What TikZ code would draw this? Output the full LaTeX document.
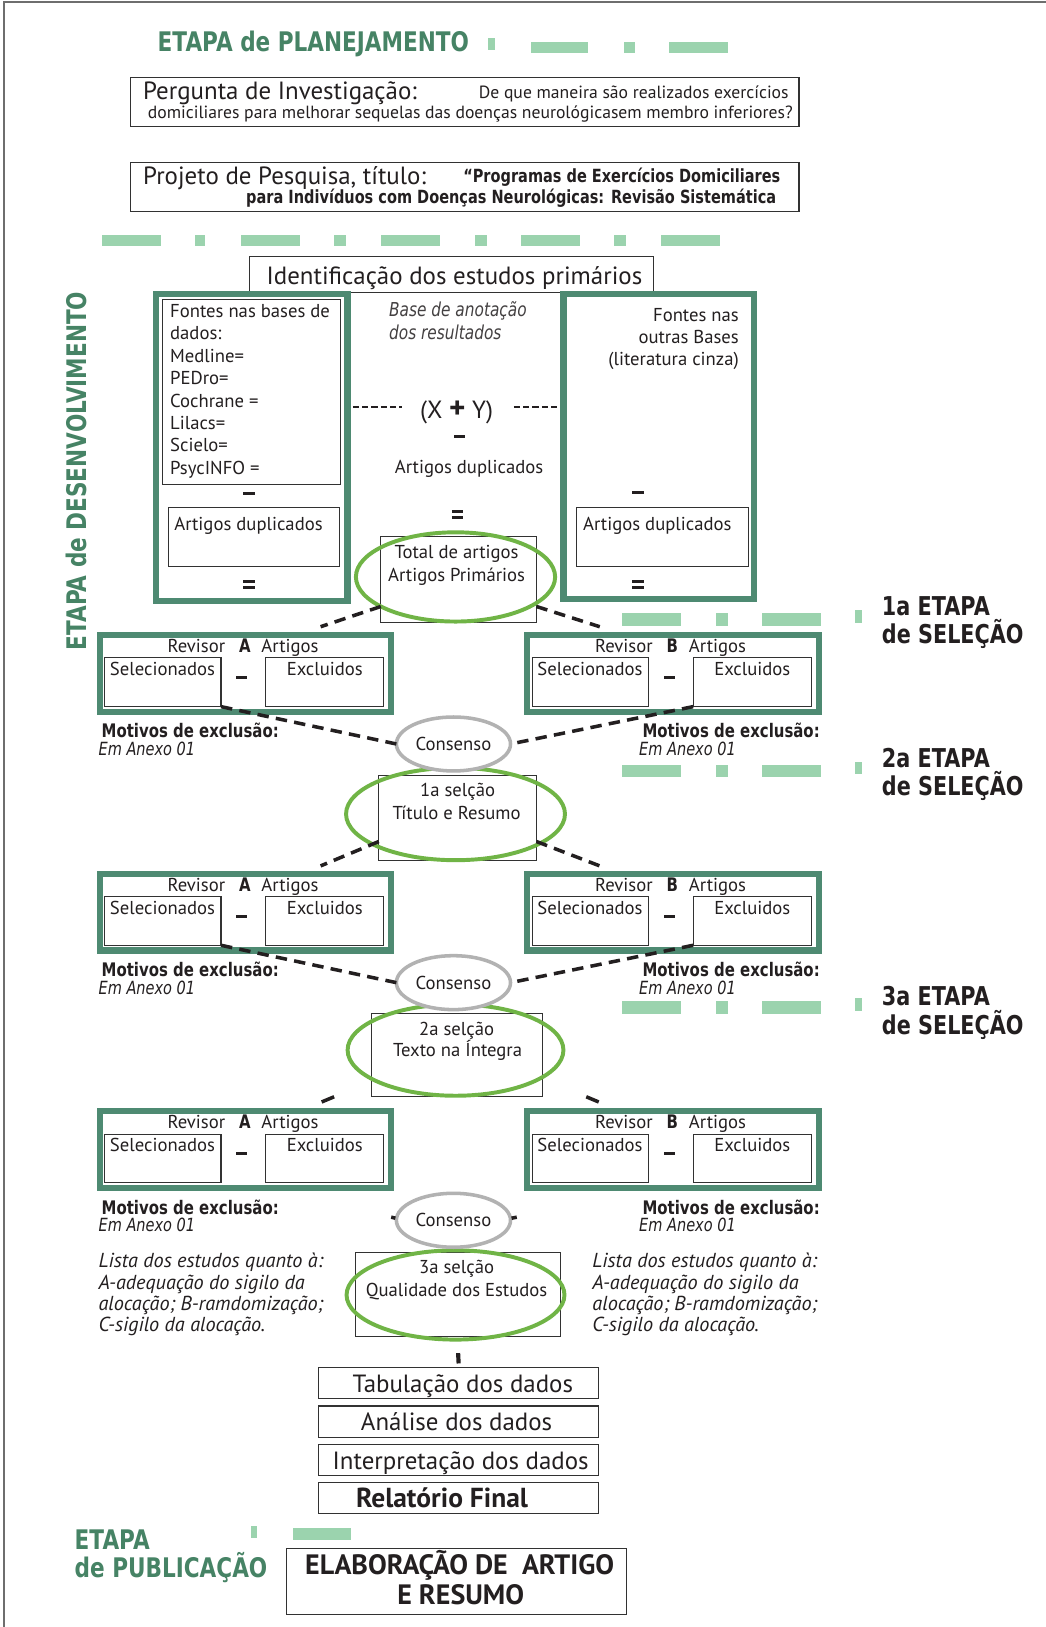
\documentclass[tikz,border=0pt]{standalone}
\usepackage{fontspec}
\usetikzlibrary{shapes.geometric,calc}
\setmainfont{PT Sans}
\newfontfamily\vsans[FakeStretch=0.8]{DejaVu Sans}
\newcommand\fsz[2]{\fontsize{#1}{#2}\selectfont}

\definecolor{inkc}{RGB}{35,31,32}
\definecolor{boxc}{RGB}{50,50,50}
\definecolor{frameGreen}{RGB}{78,138,114}
\definecolor{titleGreen}{RGB}{70,131,101}
\definecolor{lightGreen}{RGB}{155,211,174}
\definecolor{ringGreen}{RGB}{112,180,70}
\definecolor{consGray}{RGB}{178,178,178}
\definecolor{edgeGray}{RGB}{110,110,110}

% two short bars used as an equals sign
\newcommand\eqsign{\color{inkc}\vbox{\hrule width 11pt height 3pt\vskip 3pt\hrule width 11pt height 3pt}}

% one reviewer block: #1 name, #2 x offset, #3 top, #4 reviewer letter
\newcommand\revblock[4]{%
  \begin{scope}[shift={(#2,#3)}]
    \node[gframe, minimum width=281pt, minimum height=74pt] (#1) at (236.5,40) {};
    \node[thinbox, minimum width=112pt, minimum height=47pt] (#1-sel) at (157,48.5) {};
    \node[thinbox, minimum width=114pt, minimum height=47pt] (#1-exc) at (313,48.5) {};
    \node[txt, body, anchor=base east] (#1-rv) at (217,20) {Revisor};
    \node[txt, anchor=base, font=\vsans\bfseries\fsz{18}{20}] (#1-id) at (236,20) {#4};
    \node[txt, body, anchor=base west] (#1-ar) at (252,20) {Artigos};
    \node[txt, body, anchor=base west] (#1-st) at (106,42) {Selecionados};
    \node[txt, body, anchor=base] (#1-et) at (313,42) {Excluidos};
    \node[minusbar] (#1-mi) at (233,44) {};
  \end{scope}}

\begin{document}
\begin{tikzpicture}[x=1pt,y=-1pt,
  txt/.style={inner sep=0pt,outer sep=0pt,text=inkc},
  thinbox/.style={draw=boxc,line width=1pt,inner sep=0pt,outer sep=0pt},
  gframe/.style={draw=frameGreen,line width=6pt,inner sep=0pt,outer sep=0pt},
  selring/.style={ellipse,draw=ringGreen,line width=3.8pt,inner sep=0pt,outer sep=0pt},
  consring/.style={ellipse,draw=consGray,line width=3.4pt,inner sep=0pt,outer sep=0pt,fill=white,text=inkc},
  link/.style={draw=inkc,line width=3.4pt,dash pattern=on 11pt off 7pt},
  stub/.style={draw=inkc,line width=3.4pt},
  thindash/.style={draw=inkc,line width=1.4pt,dash pattern=on 6pt off 3pt},
  minusbar/.style={fill=inkc,minimum width=11pt,minimum height=3pt,inner sep=0pt,outer sep=0pt},
  body/.style={font=\fsz{18}{21}},
  big/.style={font=\fsz{24}{28}},
  darklabel/.style={font=\vsans\bfseries\fsz{25}{27},text=inkc},
  greenlabel/.style={font=\vsans\bfseries\fsz{26}{28},text=titleGreen},
  motivo/.style={font=\vsans\bfseries\fsz{18}{20}},
  anexo/.style={font=\vsans\itshape\fsz{17.5}{20}},
  lista/.style={font=\itshape\fsz{19.5}{20}},
]
\useasboundingbox (0,0) rectangle (1008,1568);
\fill[white] (0,0) rectangle (1008,1568);
\draw[edgeGray,line width=2pt] (4,1568) -- (4,2) -- (1008,2);

% ---- light green dash-dot rules
\foreach \a/\b/\c/\d in {470/37/477/48, 512/40/567/51, 601/40/612/51, 645/40/702/51,
  98/226/155/237, 188/226/198/237, 232/226/289/237, 322/226/333/237, 367/226/424/237,
  458/226/469/237, 502/226/559/237, 592/226/603/237, 637/226/694/237,
  599/591/656/603, 690/591/702/603, 734/591/791/603, 824/588/831/600,
  599/737/656/749, 690/737/702/749, 734/737/791/749, 824/734/831/746,
  599/965/656/977, 690/965/702/977, 734/965/791/977, 824/962/831/974,
  242/1471/248/1482, 282/1473/338/1484}
  \fill[lightGreen] (\a,\b) rectangle (\c,\d);

% ---- planning stage
\node[txt, greenlabel, anchor=base west] (plan) at (152,50) {ETAPA de PLANEJAMENTO};

\node[thinbox, minimum width=644pt, minimum height=47pt] (perg) at (448,98.5) {};
\node[txt, big, anchor=base west] (pergT) at (138,96) {Pergunta de Investigação:};
\node[txt, font=\fsz{17}{20}, anchor=base east] (pergA) at (760,95) {De que maneira são realizados exercícios};
\node[txt, font=\fsz{17}{20}, anchor=base east] (pergB) at (764,114) {domiciliares para melhorar sequelas das doenças neurológicasem membro inferiores?};

\node[thinbox, minimum width=644pt, minimum height=47pt] (proj) at (448,180.5) {};
\node[txt, big, anchor=base west] (projT) at (138,178) {Projeto de Pesquisa, título:};
\node[txt, font=\vsans\bfseries\fsz{17.5}{20}, anchor=base east] (projA) at (752,176) {“Programas de Exercícios Domiciliares};
\node[txt, font=\vsans\bfseries\fsz{17.5}{20}, anchor=base east] (projB) at (748,196) {para Indivíduos com Doenças Neurológicas: Revisão Sistemática};

% ---- development stage
\node[txt, greenlabel, rotate=90, anchor=base] (desen) at (83,454) {ETAPA de DESENVOLVIMENTO};

\node[thinbox, minimum width=390pt, minimum height=35pt] (ident) at (435,264.5) {};
\node[txt, big, anchor=base] (identt) at (438,274) {Identificação dos estudos primários};

\node[txt, font=\fsz{24}{28}, anchor=base] (xy) at (440,403) {(X {\fsz{30}{30}\bfseries +} Y)};
\node[gframe, minimum width=185pt, minimum height=296pt] (srcL) at (242.5,431) {};
\node[gframe, minimum width=184pt, minimum height=294pt] (srcR) at (635,430) {};
\draw[thindash] ($(srcL.east |- xy.center)+(5,-5)$) -- ($(xy.west)+(-17,-5)$);
\draw[thindash] ($(xy.east)+(20,-5)$) -- ($(srcR.west |- xy.center)+(-5,-5)$);

\node[thinbox, minimum width=171pt, minimum height=178pt] (bases) at (242.5,378) {};
\foreach \t [count=\i] in {Fontes nas bases de, dados:, Medline=, PEDro=, Cochrane =, Lilacs=, Scielo=, PsycINFO =}
  \node[txt, body, anchor=base west] (fl\i) at (164,{306+21.6*(\i-1)}) {\t};
\node[minusbar] (minL) at (240,476) {};
\node[thinbox, minimum width=165pt, minimum height=57pt] (dupL) at (244.5,517.5) {};
\node[txt, body, anchor=base west] (dupLt) at (168,511) {Artigos duplicados};
\node[txt] (eqL) at (240,563) {\eqsign};

\node[txt, body, anchor=base east] (fr1) at (712,310) {Fontes nas};
\node[txt, body, anchor=base east] (fr2) at (712,331) {outras Bases};
\node[txt, body, anchor=base east] (fr3) at (712,352) {(literatura cinza)};
\node[minusbar] (minR) at (615,475) {};
\node[thinbox, minimum width=165pt, minimum height=57pt] (dupR) at (638.5,517.5) {};
\node[txt, body, anchor=base west] (dupRt) at (562,511) {Artigos duplicados};
\node[txt] (eqR) at (615,563) {\eqsign};

\node[txt, font=\vsans\itshape\fsz{18.5}{20}, text=inkc!85, anchor=base west] (anot1) at (375,305) {Base de anotação};
\node[txt, font=\vsans\itshape\fsz{18.5}{20}, text=inkc!85, anchor=base west] (anot2) at (375,327) {dos resultados};
\node[minusbar] (minM) at (443,421) {};
\node[txt, body, anchor=base] (dupM) at (452,456) {Artigos duplicados};
\node[txt] (eqM) at (441,496) {\eqsign};

\node[thinbox, minimum width=150pt, minimum height=83pt] (totbox) at (442,558.5) {};
\node[selring, minimum width=192pt, minimum height=86pt] (totring) at (439,556) {};
\node[txt, body, anchor=base] (tot1) at (440,538) {Total de artigos};
\node[txt, body, anchor=base] (tot2) at (440,560) {Artigos Primários};

% ---- selection stages
\foreach \T/\k in {609/1,839/2,1068/3} {
  \revblock{revA\k}{0}{\T}{A}
  \revblock{revB\k}{412}{\T}{B}
  \node[txt, motivo, anchor=base west] (motA\k) at (98,{\T+102}) {Motivos de exclusão:};
  \node[txt, anexo, anchor=base west] (anxA\k) at (95,{\T+119}) {Em Anexo 01};
  \node[txt, motivo, anchor=base east] (motB\k) at (790,{\T+102}) {Motivos de exclusão:};
  \node[txt, anexo, anchor=base west] (anxB\k) at (616,{\T+119}) {Em Anexo 01};
}

\node[txt, darklabel, anchor=base west] (et1a) at (850,593) {1a ETAPA};
\node[txt, darklabel, anchor=base west] (et1b) at (850,620) {de SELEÇÃO};
\node[txt, darklabel, anchor=base west] (et2a) at (850,740) {2a ETAPA};
\node[txt, darklabel, anchor=base west] (et2b) at (850,767) {de SELEÇÃO};
\node[txt, darklabel, anchor=base west] (et3a) at (850,969) {3a ETAPA};
\node[txt, darklabel, anchor=base west] (et3b) at (850,997) {de SELEÇÃO};

\node[thinbox, minimum width=152pt, minimum height=82pt] (s1box) at (441,788) {};
\node[selring, minimum width=211pt, minimum height=89pt] (s1ring) at (439,784.5) {};
\node[thinbox, minimum width=165pt, minimum height=80pt] (s2box) at (440.5,1017) {};
\node[selring, minimum width=208pt, minimum height=88pt] (s2ring) at (439,1012) {};
\node[thinbox, minimum width=197pt, minimum height=81pt] (s3box) at (441.5,1247.5) {};
\node[selring, minimum width=210pt, minimum height=86pt] (s3ring) at (439,1248) {};

% dashed links between stages
\draw[link] ([yshift=-26pt]totbox.west) -- ([xshift=72.5pt,yshift=8pt]revA1.north);
\draw[link] ([yshift=-26pt]totbox.east) -- ([xshift=-70.5pt,yshift=8pt]revB1.north);
\draw[link] ([yshift=-23pt]s1box.west) -- ([xshift=72.5pt,yshift=7.5pt]revA2.north);
\draw[link] ([yshift=-23pt]s1box.east) -- ([xshift=-70.5pt,yshift=7.5pt]revB2.north);
\draw[stub] ([xshift=85.5pt,yshift=14pt]revA3.north) -- ([xshift=73.5pt,yshift=9pt]revA3.north);
\draw[stub] ([xshift=-83.5pt,yshift=14pt]revB3.north) -- ([xshift=-71.5pt,yshift=9pt]revB3.north);

\foreach \T/\k in {609/1,839/2,1068/3}
  \node[consring, body, minimum width=110pt, minimum height=52pt] (cons\k) at (437,{\T+108}) {Consenso};

\foreach \k in {1,2} {
  \draw[link] (revA\k-sel.south east) -- (cons\k.west);
  \draw[link] (revB\k-exc.south west) -- (cons\k.east);
}
\draw[stub] ([xshift=-5pt,yshift=3pt]cons3.west) -- ([xshift=-1pt,yshift=2pt]cons3.west);
\draw[stub] ([xshift=1pt,yshift=2pt]cons3.east) -- ([xshift=6pt,yshift=3pt]cons3.east);

\node[txt, body, anchor=base] (s1t1) at (441,768) {1a selção};
\node[txt, body, anchor=base] (s1t2) at (440,790) {Título e Resumo};
\node[txt, body, anchor=base] (s2t1) at (440,998) {2a selção};
\node[txt, body, anchor=base] (s2t2) at (441,1018) {Texto na Íntegra};
\node[txt, body, anchor=base] (s3t1) at (440,1227) {3a selção};
\node[txt, body, anchor=base] (s3t2) at (440,1249) {Qualidade dos Estudos};

\foreach \t [count=\i] in {Lista dos estudos quanto à:, A-adequação do sigilo da, alocação; B-ramdomização;, C-sigilo da alocação.} {
  \node[txt, lista, anchor=base west] (lstL\i) at (95,{1222+20.4*(\i-1)}) {\t};
  \node[txt, lista, anchor=base west] (lstR\i) at (571,{1222+20.4*(\i-1)}) {\t};
}

% ---- data handling
\node[thinbox, minimum width=270pt, minimum height=30pt] (tab) at (442,1333) {};
\node[thinbox, minimum width=270pt, minimum height=30pt] (ana) at (442,1370) {};
\node[thinbox, minimum width=270pt, minimum height=30pt] (inter) at (442,1407) {};
\node[thinbox, minimum width=270pt, minimum height=30pt] (rel) at (442,1444) {};
\draw[draw=inkc, line width=4pt] ([yshift=-16pt]s3box.south) -- ([yshift=4pt]tab.north);
\node[txt, big, anchor=base] (tabt) at (446,1342) {Tabulação dos dados};
\node[txt, big, anchor=base] (anat) at (440,1379) {Análise dos dados};
\node[txt, big, anchor=base] (intert) at (444,1416) {Interpretação dos dados};
\node[txt, font=\bfseries\fsz{26.5}{28}, anchor=base] (relt) at (426,1453) {Relatório Final};

% ---- publication stage
\node[txt, greenlabel, anchor=base west] (pub1) at (72,1493) {ETAPA};
\node[txt, greenlabel, anchor=base west] (pub2) at (72,1520) {de PUBLICAÇÃO};
\node[thinbox, minimum width=328pt, minimum height=64pt] (elab) at (440,1524) {};
\node[txt, font=\bfseries\fsz{27}{28}, anchor=base] (elab1) at (443,1517) {ELABORAÇÃO DE\ \ ARTIGO};
\node[txt, font=\bfseries\fsz{27}{28}, anchor=base] (elab2) at (444,1546) {E RESUMO};
\end{tikzpicture}
\end{document}
